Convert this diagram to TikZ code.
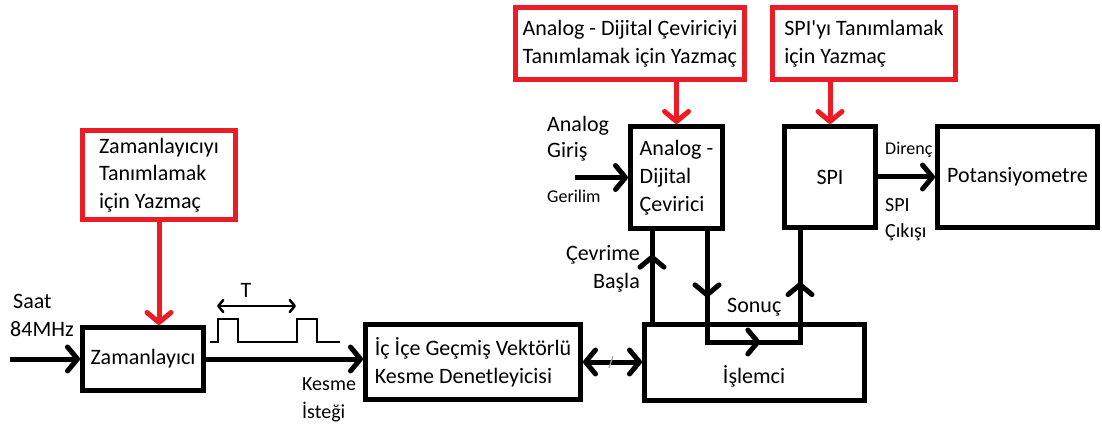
\documentclass[tikz,border=0pt]{standalone}
\usepackage{fontspec}
\setmainfont{Carlito}[Ligatures=TeXOff]
\usetikzlibrary{arrows.meta,decorations.markings}
\definecolor{regred}{HTML}{ED1C24}
\begin{document}
\begin{tikzpicture}[x=1pt,y=-1pt,
  blockbox/.style={draw=black, line width=5pt, inner sep=0pt, align=left,
    font=\fontsize{22}{28}\selectfont},
  regbox/.style={draw=regred, line width=5pt, inner sep=0pt, align=left,
    font=\fontsize{22}{27.5}\selectfont},
  lbl/.style={inner sep=0pt, font=\fontsize{22}{28}\selectfont},
  midlbl/.style={inner sep=0pt, font=\fontsize{20}{26}\selectfont},
  smalllbl/.style={inner sep=0pt, font=\fontsize{18}{22}\selectfont},
  barb/.tip={Straight Barb[round, length=10pt, width=24pt, line width=5pt]},
  smallbarb/.tip={Straight Barb[round, length=5pt, width=12pt, line width=2.5pt]},
  conn/.style={line width=5pt, -barb},
  redconn/.style={draw=regred, line width=5pt, -barb},
  plainconn/.style={line width=5pt},
  wave/.style={line width=2.5pt}
]
\useasboundingbox (0,0) rectangle (1102,430);

% blocks
\node[blockbox, minimum width=121pt, minimum height=63pt] (zam) at (143,359) {Zamanlayıcı};
\node[blockbox, minimum width=215pt, minimum height=75pt] (nvic) at (473,362) {İç İçe Geçmiş Vektörlü\\Kesme Denetleyicisi};
\node[blockbox, minimum width=220pt, minimum height=76pt] (cpu) at (754.5,362.5) {};
\node[lbl, anchor=base] (cpulbl) at (754,383) {İşlemci};
\node[blockbox, minimum width=92pt, minimum height=102pt] (adc) at (676.5,177.5) {Analog -\\Dijital\\Çevirici};
\node[blockbox, minimum width=91pt, minimum height=101pt] (spi) at (830,177) {SPI};
\node[blockbox, minimum width=160pt, minimum height=101pt] (pot) at (1017.5,177) {Potansiyometre};

% register boxes
\node[regbox, minimum width=153pt, minimum height=89pt] (rzam) at (159,175) {Zamanlayıcıyı\\Tanımlamak\\için Yazmaç};
\node[regbox, minimum width=229pt, minimum height=72pt] (radc) at (630,43.5) {Analog - Dijital Çeviriciyi\\Tanımlamak için Yazmaç};
\node[regbox, minimum width=183pt, minimum height=72pt] (rspi) at (864,43.5) {SPI'yı Tanımlamak\\için Yazmaç};

% register arrows
\draw[redconn] (rzam.south) -- (rzam.south |- zam.north);
\draw[redconn] (adc.north |- radc.south) -- (adc.north);
\draw[redconn] (spi.north |- rspi.south) -- (spi.north);

% clock input and timer output
\coordinate (clk) at (10,359);
\draw[conn] (clk) -- (zam.west);
\draw[conn] (zam.east) -- (zam.east -| nvic.west);
\node[lbl, anchor=base west] (saat) at (13,308) {Saat};
\node[lbl, anchor=base west] (freq) at (10,336) {84MHz};
\node[midlbl, anchor=base west] (kesme) at (302,390) {Kesme};
\node[midlbl, anchor=base west] (istek) at (302,418) {İsteği};

% pulse train with period
\draw[wave] (210,342) -- (218,342) -- (218,319) -- (238,319) -- (238,342) -- (297,342)
  -- (297,319) -- (317,319) -- (317,342) -- (340,342);
\coordinate (p1) at (217,306);
\coordinate (p2) at (296,306);
\draw[wave, smallbarb-smallbarb] (p1) -- (p2);
\node[lbl, anchor=base] (tlbl) at (246,297) {T};

% NVIC <-> CPU
\draw[line width=5pt, barb-barb] (nvic.east) -- (nvic.east -| cpu.west);
\draw[gray!70, line width=1.2pt] (609,368) -- (613,356);

% analog input
\coordinate (ain) at (575,177.5);
\draw[conn] (ain) -- (adc.west);
\node[lbl, anchor=base west] (an1) at (547,132) {Analog};
\node[lbl, anchor=base west] (an2) at (547,158) {Giriş};
\node[smalllbl, anchor=base west] (ger) at (547,203) {Gerilim};

% conversion start
\coordinate (xc) at (652,0);
\draw[plainconn, postaction={decorate}, decoration={markings,
    mark=at position 0.74 with {\arrow{barb}}}]
  (cpu.north -| xc) -- (adc.south -| xc);
\node[lbl, anchor=base east] (cv1) at (640,260) {Çevrime};
\node[lbl, anchor=base east] (cv2) at (640,288) {Başla};

% result path through the processor to SPI
\coordinate (xs) at (707,0);
\coordinate (xu) at (800,0);
\coordinate (ys) at (0,342);
\draw[plainconn, postaction={decorate}, decoration={markings,
    mark=at position 0.21 with {\arrow{barb}},
    mark=at position 0.52 with {\arrow{barb}},
    mark=at position 0.835 with {\arrow{barb}}}]
  (adc.south -| xs) -- (xs |- ys) -- (xu |- ys) -- (spi.south -| xu);
\node[lbl, anchor=base west] (son) at (727,312) {Sonuç};

% SPI to potentiometer
\draw[conn] (spi.east) -- (pot.west);
\node[smalllbl, anchor=base west] (dir) at (885,155) {Direnç};
\node[midlbl, anchor=base west] (so1) at (885,212) {SPI};
\node[midlbl, anchor=base west] (so2) at (885,238) {Çıkışı};
\end{tikzpicture}
\end{document}
